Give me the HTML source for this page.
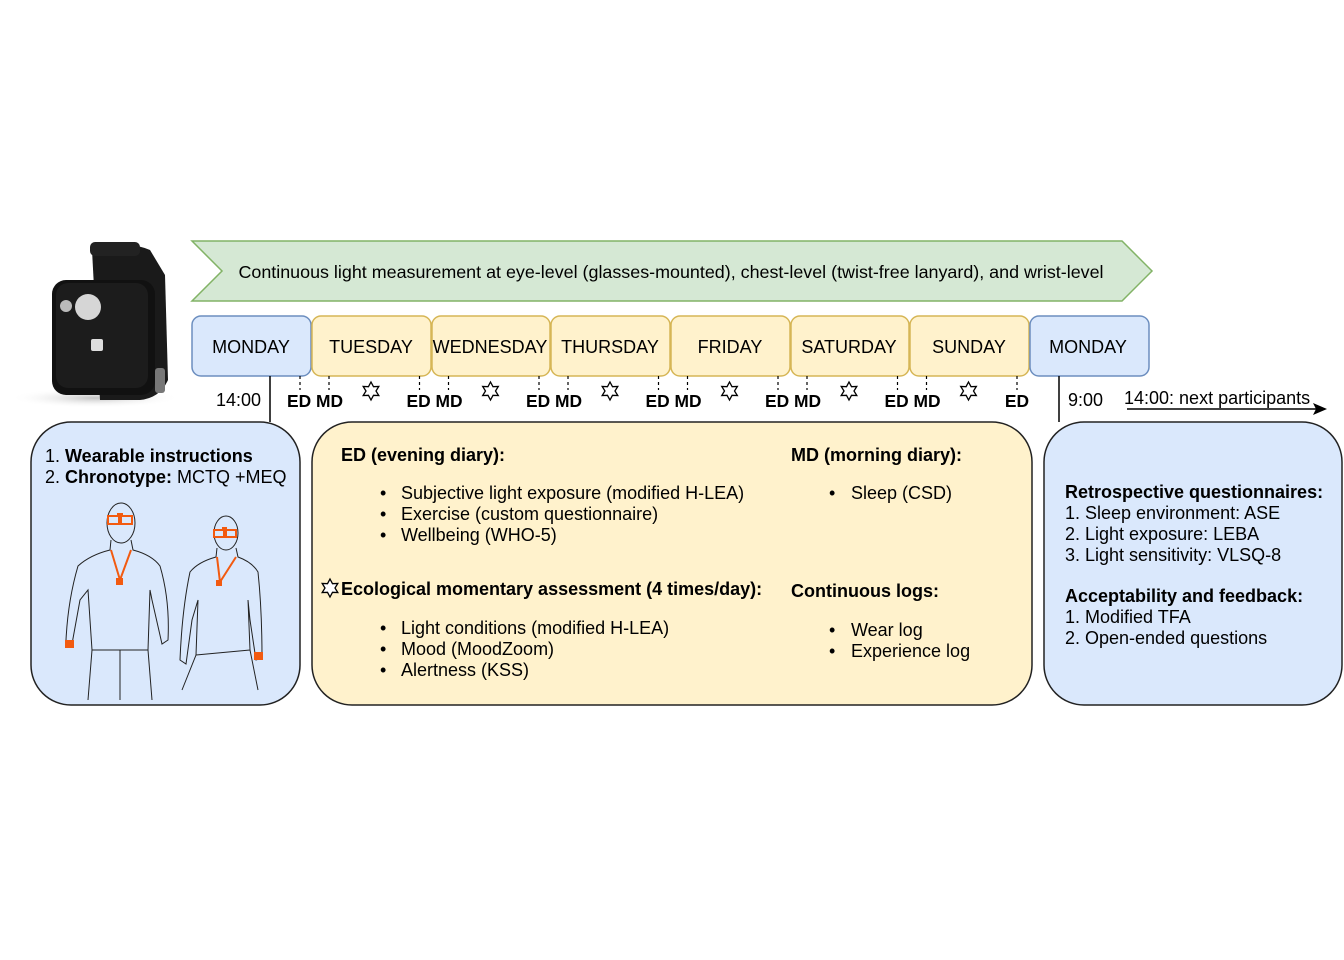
<!DOCTYPE html>
<html><head><meta charset="utf-8"><style>
html,body{margin:0;padding:0;background:#fff;}
svg{display:block;font-family:"Liberation Sans",Arial,sans-serif;}
.b{font-weight:bold}
</style></head><body>
<svg width="1344" height="960" viewBox="0 0 1344 960" xmlns="http://www.w3.org/2000/svg">
<defs>
<radialGradient id="sh" cx="0.5" cy="0.5" r="0.5"><stop offset="0" stop-color="#999" stop-opacity="0.6"/><stop offset="1" stop-color="#fff" stop-opacity="0"/></radialGradient>
<g id="star"><polygon points="0,-9 2.5,-4.3 7.8,-4.5 5,0 7.8,4.5 2.5,4.3 0,9 -2.5,4.3 -7.8,4.5 -5,0 -7.8,-4.5 -2.5,-4.3" fill="#fff" stroke="#000" stroke-width="1.3"/></g>
</defs>
<!-- watch -->
<ellipse cx="95" cy="398" rx="85" ry="10" fill="url(#sh)"/>
<path d="M92 250 Q120 238 150 250 L165 275 L168 380 Q160 398 140 400 L100 400 Z" fill="#1a1a1a"/>
<rect x="90" y="242" width="50" height="14" rx="5" fill="#222"/>
<rect x="52" y="280" width="103" height="115" rx="14" fill="#111"/>
<rect x="56" y="283" width="92" height="105" rx="12" fill="#1c1c1c"/>
<circle cx="66" cy="306" r="6" fill="#bbb"/>
<circle cx="88" cy="307" r="13" fill="#d6d6d6"/>
<rect x="91" y="339" width="12" height="12" rx="2" fill="#ddd"/>
<rect x="155" y="368" width="10" height="25" rx="3" fill="#777"/>
<!-- green banner -->
<polygon points="192,241 1122,241 1152,271 1122,301 192,301 222,271" fill="#d5e8d4" stroke="#82b366" stroke-width="1.5"/>
<text x="671" y="278" font-size="17.9" text-anchor="middle">Continuous light measurement at eye-level (glasses-mounted), chest-level (twist-free lanyard), and wrist-level</text>
<!-- days -->
<g font-size="18" text-anchor="middle">
<rect x="192" y="316" width="119" height="60" rx="9" fill="#dae8fc" stroke="#6c8ebf" stroke-width="1.5"/><text x="251" y="353">MONDAY</text>
<rect x="312" y="316" width="119" height="60" rx="9" fill="#fff2cc" stroke="#d6b656" stroke-width="1.5"/><text x="371" y="353">TUESDAY</text>
<rect x="432" y="316" width="118" height="60" rx="9" fill="#fff2cc" stroke="#d6b656" stroke-width="1.5"/><text x="490" y="353">WEDNESDAY</text>
<rect x="551" y="316" width="119" height="60" rx="9" fill="#fff2cc" stroke="#d6b656" stroke-width="1.5"/><text x="610" y="353">THURSDAY</text>
<rect x="671" y="316" width="119" height="60" rx="9" fill="#fff2cc" stroke="#d6b656" stroke-width="1.5"/><text x="730" y="353">FRIDAY</text>
<rect x="791" y="316" width="118" height="60" rx="9" fill="#fff2cc" stroke="#d6b656" stroke-width="1.5"/><text x="849" y="353">SATURDAY</text>
<rect x="910" y="316" width="119" height="60" rx="9" fill="#fff2cc" stroke="#d6b656" stroke-width="1.5"/><text x="969" y="353">SUNDAY</text>
<rect x="1030" y="316" width="119" height="60" rx="9" fill="#dae8fc" stroke="#6c8ebf" stroke-width="1.5"/><text x="1088" y="353">MONDAY</text>
</g>
<!-- ticks -->
<g stroke="#000" stroke-width="1.2" stroke-dasharray="3,3">
<line x1="300" y1="376" x2="300" y2="390"/><line x1="329" y1="376" x2="329" y2="390"/>
<line x1="419.5" y1="376" x2="419.5" y2="390"/><line x1="448.5" y1="376" x2="448.5" y2="390"/>
<line x1="539" y1="376" x2="539" y2="390"/><line x1="568" y1="376" x2="568" y2="390"/>
<line x1="658.5" y1="376" x2="658.5" y2="390"/><line x1="687.5" y1="376" x2="687.5" y2="390"/>
<line x1="778" y1="376" x2="778" y2="390"/><line x1="807" y1="376" x2="807" y2="390"/>
<line x1="897.5" y1="376" x2="897.5" y2="390"/><line x1="926.5" y1="376" x2="926.5" y2="390"/>
<line x1="1017" y1="376" x2="1017" y2="390"/>
</g>
<g font-size="17.4" class="b" text-anchor="middle">
<text x="315" y="407">ED MD</text><text x="434.5" y="407">ED MD</text><text x="554" y="407">ED MD</text>
<text x="673.5" y="407">ED MD</text><text x="793" y="407">ED MD</text><text x="912.5" y="407">ED MD</text>
<text x="1017" y="407">ED</text>
</g>
<use href="#star" x="371" y="391"/><use href="#star" x="490.5" y="391"/><use href="#star" x="610" y="391"/>
<use href="#star" x="729.5" y="391"/><use href="#star" x="849" y="391"/><use href="#star" x="968.5" y="391"/>
<text x="261" y="406" font-size="18" text-anchor="end">14:00</text>
<line x1="270" y1="376" x2="270" y2="422" stroke="#000" stroke-width="1.5"/>
<line x1="1059" y1="376" x2="1059" y2="422" stroke="#000" stroke-width="1.5"/>
<text x="1068" y="406" font-size="18">9:00</text>
<text x="1124" y="404" font-size="18">14:00: next participants</text>
<line x1="1127" y1="409" x2="1316" y2="409" stroke="#000" stroke-width="1.5"/>
<polygon points="1327,409 1313,403 1316,409 1313,415" fill="#000"/>
<!-- left box -->
<rect x="31" y="422" width="269" height="283" rx="40" fill="#dae8fc" stroke="#222" stroke-width="1.5"/>
<text x="45" y="462" font-size="18">1.  <tspan class="b">Wearable instructions</tspan></text>
<text x="45" y="483" font-size="18">2.  <tspan class="b">Chronotype:</tspan> MCTQ +MEQ</text>
<g fill="none" stroke="#222" stroke-width="1">
<ellipse cx="121" cy="523" rx="14" ry="20"/>
<path d="M111 540 L110 550 Q90 555 78 566 Q68 600 66 640 L72 644 L80 600 L88 590 L92 650 L88 700 M131 540 L133 550 Q152 555 160 566 Q170 600 168 640 L162 644 L152 600 L150 590 L148 650 L152 700 M92 650 L148 650 M120 650 L120 700"/>
<ellipse cx="226" cy="533" rx="12" ry="17"/>
<path d="M217 548 L216 557 Q198 562 190 572 Q182 610 180 660 L186 664 L192 620 L198 600 L196 655 L182 690 M236 548 L238 557 Q252 562 258 572 Q262 610 262 658 L256 660 L250 620 L248 600 L250 650 L258 690 M196 655 L250 650"/>
</g>
<g fill="none" stroke="#f25a10" stroke-width="2">
<rect x="108" y="516" width="11" height="8"/><rect x="121" y="516" width="11" height="8"/>
<path d="M111 550 L120 580 L131 550"/>
<rect x="214" y="530" width="10" height="7"/><rect x="226" y="530" width="10" height="7"/>
<path d="M217 557 L220 582 L236 557"/>
</g>
<g fill="#f25a10"><rect x="116" y="578" width="7" height="7"/><rect x="216" y="580" width="6" height="6"/>
<rect x="65" y="640" width="9" height="8"/><rect x="254" y="652" width="9" height="8"/><rect x="117" y="513" width="6" height="4"/><rect x="222" y="527" width="5" height="4"/></g>
<!-- middle box -->
<rect x="312" y="422" width="720" height="283" rx="40" fill="#fff2cc" stroke="#222" stroke-width="1.5"/>
<g font-size="18">
<text x="341" y="461" class="b">ED (evening diary):</text>
<text x="791" y="461" class="b">MD (morning diary):</text>
<text x="380" y="499">•</text><text x="401" y="499">Subjective light exposure (modified H-LEA)</text>
<text x="380" y="520">•</text><text x="401" y="520">Exercise (custom questionnaire)</text>
<text x="380" y="541">•</text><text x="401" y="541">Wellbeing (WHO-5)</text>
<text x="829" y="499">•</text><text x="851" y="499">Sleep (CSD)</text>
<text x="341" y="595" class="b">Ecological momentary assessment (4 times/day):</text>
<text x="791" y="597" class="b">Continuous logs:</text>
<text x="380" y="634">•</text><text x="401" y="634">Light conditions (modified H-LEA)</text>
<text x="380" y="655">•</text><text x="401" y="655">Mood (MoodZoom)</text>
<text x="380" y="676">•</text><text x="401" y="676">Alertness (KSS)</text>
<text x="829" y="636">•</text><text x="851" y="636">Wear log</text>
<text x="829" y="657">•</text><text x="851" y="657">Experience log</text>
</g>
<use href="#star" x="330" y="588"/>
<!-- right box -->
<rect x="1044" y="422" width="298" height="283" rx="40" fill="#dae8fc" stroke="#222" stroke-width="1.5"/>
<g font-size="18">
<text x="1065" y="498" class="b">Retrospective questionnaires:</text>
<text x="1065" y="519">1. Sleep environment: ASE</text>
<text x="1065" y="540">2. Light exposure: LEBA</text>
<text x="1065" y="561">3. Light sensitivity: VLSQ-8</text>
<text x="1065" y="602" class="b">Acceptability and feedback:</text>
<text x="1065" y="623">1. Modified TFA</text>
<text x="1065" y="644">2. Open-ended questions</text>
</g>
</svg>
</body></html>
